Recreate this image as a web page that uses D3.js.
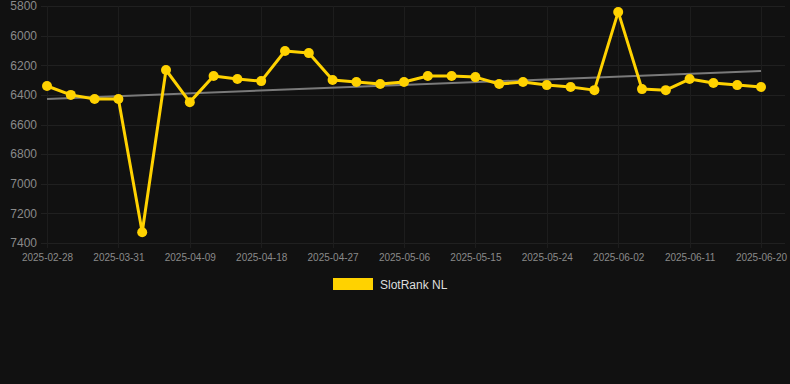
<!DOCTYPE html>
<html>
<head>
<meta charset="utf-8">
<script src="https://cdn.jsdelivr.net/npm/d3@7"></script>
<style>
  html, body { margin: 0; padding: 0; background: #111111; }
  svg { display: block; font-family: "Liberation Sans", Arial, sans-serif; }
</style>
</head>
<body>
<svg id="chart" width="790" height="384"></svg>
<script>
var dates = ["2025-02-28","2025-03-25","2025-03-28","2025-03-31","2025-04-03","2025-04-06",
    "2025-04-09","2025-04-12","2025-04-15","2025-04-18","2025-04-21","2025-04-24",
    "2025-04-27","2025-04-30","2025-05-03","2025-05-06","2025-05-09","2025-05-12",
    "2025-05-15","2025-05-18","2025-05-21","2025-05-24","2025-05-27","2025-05-30",
    "2025-06-02","2025-06-05","2025-06-08","2025-06-11","2025-06-14","2025-06-17","2025-06-20"];
var ranks = [6340, 6400, 6428, 6428, 7327, 6232, 6449, 6273, 6293, 6307, 6104, 6118,
    6300, 6313, 6327, 6313, 6273, 6273, 6280, 6327, 6313, 6334, 6347, 6368,
    5840, 6361, 6368, 6293, 6320, 6334, 6347];
var yTicks = [5800, 6000, 6200, 6400, 6600, 6800, 7000, 7200, 7400];
var seriesName = "SlotRank NL";

var plotLeft = 41, plotRight = 785, plotTop = 6, plotBottom = 243;

var svg = d3.select('#chart');

var x = d3.scalePoint()
    .domain(dates)
    .range([47, 761]);

var y = d3.scaleLinear()
    .domain([5800, 7400])
    .range([plotTop, plotBottom]);

// grid lines
svg.append('g')
    .selectAll('line')
    .data(yTicks)
    .enter()
    .append('line')
    .attr('x1', plotLeft)
    .attr('x2', plotRight)
    .attr('y1', d => Math.round(y(d)) + 0.5)
    .attr('y2', d => Math.round(y(d)) + 0.5)
    .attr('stroke', '#202020')
    .attr('stroke-width', 1)

var labelDates = dates.filter((d, i) => i % 3 == 0);

svg.append('g')
    .selectAll('line')
    .data(labelDates)
    .enter()
    .append('line')
    .attr('x1', d => Math.round(x(d)) + 0.5)
    .attr('x2', d => Math.round(x(d)) + 0.5)
    .attr('y1', plotTop)
    .attr('y2', plotBottom + 5)
    .attr('stroke', '#1d1d1d')
    .attr('stroke-width', 1)

// y axis
const yAxis = d3.axisLeft(y).tickValues(yTicks).tickFormat(d3.format('d')).tickSize(0).tickPadding(0);
const gy = svg.append('g')
    .attr('transform', 'translate(37,0)')
    .call(yAxis);
gy.select('.domain').remove();
gy.selectAll('text')
    .attr('fill', '#8a8a8a')
    .style('font-size', '12px')
    .style('font-family', '"Liberation Sans", Arial, sans-serif');

// x axis
const xAxis = d3.axisBottom(x).tickValues(labelDates).tickSize(0).tickPadding(0);
const gx = svg.append('g')
    .attr('transform', 'translate(0,' + (plotBottom + 11) + ')')
    .call(xAxis);
gx.select('.domain').remove();
gx.selectAll('text')
    .attr('fill', '#8a8a8a')
    .style('font-size', '10px')
    .style('font-family', '"Liberation Sans", Arial, sans-serif');

// trend line (least squares)
var n = ranks.length;
var mx = d3.mean(ranks, (d, i) => i);
var my = d3.mean(ranks);
var num = d3.sum(ranks, (d, i) => (i - mx) * (d - my));
var den = d3.sum(ranks, (d, i) => (i - mx) * (i - mx));
var slope = num / den;
var icpt = my - slope * mx;

svg.append('line')
    .attr('x1', x(dates[0]))
    .attr('x2', x(dates[n - 1]))
    .attr('y1', y(icpt))
    .attr('y2', y(icpt + slope * (n - 1)))
    .attr('stroke', '#7a7a7a')
    .attr('stroke-width', 2)

// series
var line = d3.line()
    .x((d, i) => x(dates[i]))
    .y(d => y(d));

svg.append('path')
    .datum(ranks)
    .attr('d', line)
    .attr('fill', 'none')
    .attr('stroke', '#ffd200')
    .attr('stroke-width', 3)
    .attr('stroke-linejoin', 'round')

svg.append('g')
    .selectAll('circle')
    .data(ranks)
    .enter()
    .append('circle')
    .attr('cx', (d, i) => x(dates[i]))
    .attr('cy', d => y(d))
    .attr('r', 5)
    .attr('fill', '#ffd200')

// legend
svg.append('rect')
    .attr('x', 333)
    .attr('y', 278)
    .attr('width', 40)
    .attr('height', 12)
    .attr('fill', '#ffd200')

svg.append('text')
    .text(seriesName)
    .attr('x', 380)
    .attr('y', 289)
    .attr('fill', '#dddddd')
    .style('font-size', '12px')
</script>
</body>
</html>
